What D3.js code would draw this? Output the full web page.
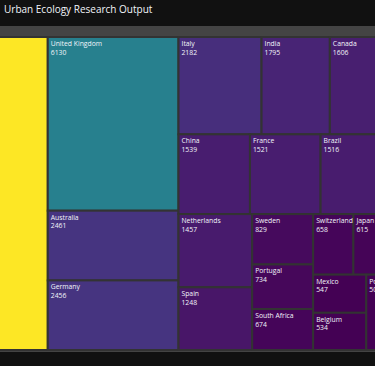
<!DOCTYPE html>
<html>
<head>
<meta charset="utf-8">
<script src="https://cdn.jsdelivr.net/npm/d3@7"></script>
<style>
  html, body { margin: 0; padding: 0; background: #111111; overflow: hidden; }
  #chart { width: 375px; height: 366px; }
</style>
</head>
<body>
<div id="chart"></div>
<script>
const countries = [
  "United States", "United Kingdom", "Australia", "Germany", "Italy", "India",
  "Canada", "China", "France", "Brazil", "Netherlands", "Spain", "Sweden",
  "Portugal", "South Africa", "Switzerland", "Japan", "Mexico", "Belgium", "Poland"
];
const outputs = [
  13500, 6130, 2461, 2456, 2182, 1795,
  1606, 1539, 1521, 1516, 1457, 1248, 829,
  734, 674, 658, 615, 547, 534, 503
];
const chartTitle = "Urban Ecology Research Output";

const container = document.getElementById("chart");
const width = 375;
const height = 366;

const svg = d3.select(container)
  .append("svg")
  .attr("width", width)
  .attr("height", height)
  .style("display", "block");

svg.append("rect")
  .attr("width", width)
  .attr("height", height)
  .attr("fill", "#111111");

svg.append("text")
  .attr("x", 4)
  .attr("y", 13)
  .attr("font-family", "'Open Sans', sans-serif")
  .attr("font-size", "10px")
  .attr("fill", "#f2f5fa")
  .text(chartTitle);

// root tile (grey band behind the leaves)
svg.append("rect")
  .attr("x", 0)
  .attr("y", 26)
  .attr("width", width)
  .attr("height", 326)
  .attr("fill", "#444444");

const data = {
  name: "root",
  children: countries.map((c, i) => ({ name: c, value: outputs[i] }))
};

const root = d3.hierarchy(data)
  .sum(d => d.value || 0)
  .sort((a, b) => b.value - a.value);

// the plot is wider than the window, its left part is cut off
const x0 = -112, x1 = 391, y0 = 37, y1 = 350;

d3.treemap()
  .tile(d3.treemapSquarify.ratio(1))
  .size([x1 - x0, y1 - y0])
  (root);

const color = d3.scaleSequential(d3.interpolateViridis)
  .domain([d3.min(outputs), d3.max(outputs)]);

const tiles = svg.append("g")
  .attr("transform", "translate(" + x0 + "," + y0 + ")");

tiles.selectAll("rect")
  .data(root.leaves())
  .join("rect")
  .attr("x", d => d.x0)
  .attr("y", d => d.y0)
  .attr("width", d => d.x1 - d.x0)
  .attr("height", d => d.y1 - d.y0)
  .attr("fill", d => color(d.data.value))
  .attr("stroke", "#333333")
  .attr("stroke-width", 2);

// labels go on top so a long name is not hidden by the next tile
const labels = svg.append("g")
  .attr("transform", "translate(" + x0 + "," + y0 + ")");

const label = labels.selectAll("text")
  .data(root.leaves().filter(d => d.x0 + x0 >= 0))
  .join("text")
  .attr("font-family", "'Open Sans', sans-serif")
  .attr("font-size", "6.8px")
  .attr("fill", "#f2f5fa");

label.append("tspan")
  .attr("x", d => d.x0 + 3)
  .attr("y", d => d.y0 + 9)
  .text(d => d.data.name);

label.append("tspan")
  .attr("x", d => d.x0 + 3)
  .attr("y", d => d.y0 + 17.5)
  .text(d => d.data.value);
</script>
</body>
</html>
